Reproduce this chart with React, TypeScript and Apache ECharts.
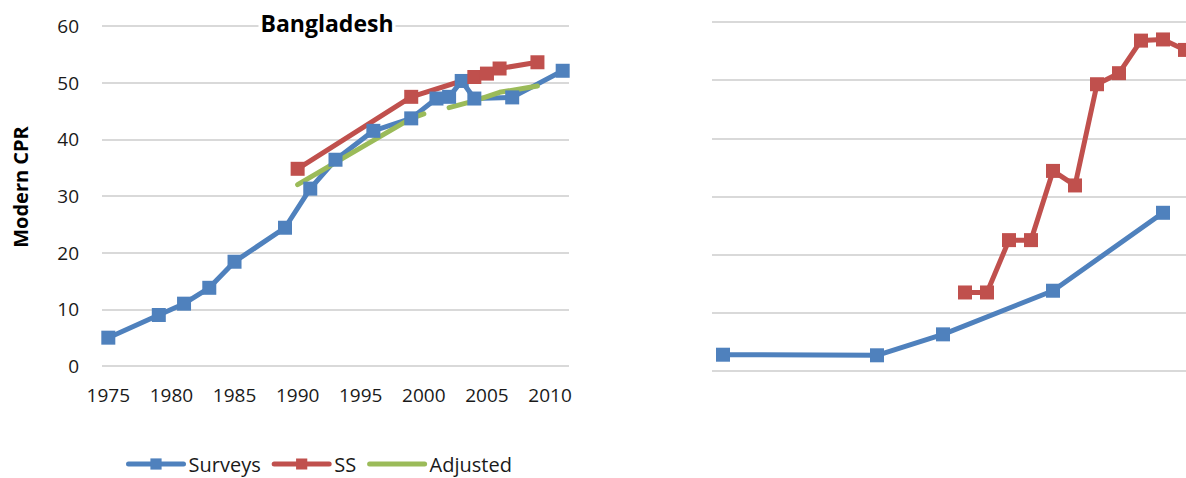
import React, { useEffect, useRef } from "react";
import * as echarts from "echarts";

// ---- Data (left panel: Bangladesh) ----
const xTickYears = [1975, 1980, 1985, 1990, 1995, 2000, 2005, 2010];
const surveyYears = [1975, 1979, 1981, 1983, 1985, 1989, 1991, 1993, 1996, 1999, 2001, 2002, 2003, 2004, 2007, 2011];
const surveyValues = [5.0, 9.0, 11.0, 13.8, 18.4, 24.4, 31.3, 36.4, 41.5, 43.7, 47.2, 47.5, 50.3, 47.2, 47.4, 52.1];
const ssYears = [1990, 1999, 2004, 2005, 2006, 2009];
const ssValues = [34.8, 47.5, 51.0, 51.6, 52.5, 53.6];
const adjustedYears = [1990, 1999, 2000, 2001, 2002, 2004, 2006, 2009];
const adjustedValues: (number | null)[] = [32.0, 43.7, 44.5, null, 45.6, 46.8, 48.3, 49.4];

// ---- Data (right panel, clipped) ----
const rightSurveyYears = [1990, 1997, 2000, 2005, 2010];
const rightSurveyValues = [2.8, 2.7, 6.3, 13.8, 27.2];
const rightSSYears = [2001, 2002, 2003, 2004, 2005, 2006, 2007, 2008, 2009, 2010, 2011];
const rightSSValues = [13.5, 13.5, 22.5, 22.5, 34.4, 31.9, 49.3, 51.2, 56.8, 57.0, 55.2];

const BLUE = "#4F81BD";
const RED = "#C0504D";
const GREEN = "#9BBB59";
const FONT = "'Open Sans', 'Noto Sans', sans-serif";

const pairs = (xs: number[], ys: (number | null)[]) =>
  xs.map((x, i) => [x, ys[i] === null ? "-" : ys[i]]);

export default function App() {
  const ref = useRef<HTMLDivElement>(null);
  useEffect(() => {
    if (!ref.current) return;
    const chart = echarts.init(ref.current, null, { renderer: "svg" });
    const gridLine = { show: true, lineStyle: { color: "#D9D9D9", width: 2 } };
    const lineSeries = (name: string, color: string, data: any[], xi: number, sym = true) => ({
      type: "line",
      name,
      xAxisIndex: xi,
      yAxisIndex: xi,
      data,
      symbol: sym ? "rect" : "none",
      symbolSize: 14,
      showSymbol: sym,
      connectNulls: false,
      clip: false,
      itemStyle: { color },
      lineStyle: { color, width: 5, cap: "round", join: "round" },
      emphasis: { disabled: true },
    });
    chart.setOption({
      animation: false,
      backgroundColor: "#fff",
      textStyle: { fontFamily: FONT },
      grid: [
        { left: 102, width: 467, top: 26, height: 340, outerBoundsMode: "none", containLabel: false },
        { left: 712, width: 506, top: 22, height: 349, outerBoundsMode: "none", containLabel: false },
      ],
      xAxis: [
        {
          type: "value",
          gridIndex: 0,
          min: 1974.5,
          max: 2011.5,
          axisLine: { show: false },
          axisTick: { show: false },
          splitLine: { show: false },
          axisLabel: {
            customValues: xTickYears,
            formatter: (v: number) => String(v),
            fontSize: 19,
            color: "#1a1a1a",
            margin: 19,
            fontFamily: FONT,
          },
        },
        {
          type: "value",
          gridIndex: 1,
          min: 1989.5,
          max: 2012.5,
          axisLine: { show: false },
          axisTick: { show: false },
          splitLine: { show: false },
          axisLabel: { show: false },
        },
      ],
      yAxis: [
        {
          type: "value",
          gridIndex: 0,
          min: 0,
          max: 60,
          interval: 10,
          axisLine: { show: false },
          axisTick: { show: false },
          splitLine: gridLine,
          axisLabel: { fontSize: 19, color: "#1a1a1a", margin: 23, fontFamily: FONT },
        },
        {
          type: "value",
          gridIndex: 1,
          min: 0,
          max: 60,
          interval: 10,
          axisLine: { show: false },
          axisTick: { show: false },
          splitLine: gridLine,
          axisLabel: { show: false },
        },
      ],
      legend: {
        left: 126,
        top: 454,
        padding: 0,
        itemWidth: 55,
        itemHeight: 14,
        itemGap: 11,
        lineStyle: { width: 5 },
        data: [
          { name: "Surveys" },
          { name: "SS" },
          { name: "Adjusted", itemStyle: { opacity: 0 } },
        ],
        textStyle: { fontSize: 20, lineHeight: 20, color: "#1a1a1a", fontFamily: FONT },
        selectedMode: false,
      },
      graphic: [
        {
          type: "text",
          x: 327,
          y: 23,
          z: 10,
          style: {
            text: "Bangladesh",
            font: `bold 23px ${FONT}`,
            fill: "#000",
            align: "center",
            verticalAlign: "middle",
            backgroundColor: "#fff",
            padding: [0, 2],
          },
        },
        {
          type: "text",
          x: 20,
          y: 187,
          rotation: Math.PI / 2,
          z: 10,
          style: {
            text: "Modern CPR",
            font: `bold 20px ${FONT}`,
            fill: "#000",
            align: "center",
            verticalAlign: "middle",
          },
        },
      ],
      series: [
        lineSeries("Surveys", BLUE, pairs(surveyYears, surveyValues), 0),
        lineSeries("SS", RED, pairs(ssYears, ssValues), 0),
        lineSeries("Adjusted", GREEN, pairs(adjustedYears, adjustedValues), 0, false),
        lineSeries("Surveys", BLUE, pairs(rightSurveyYears, rightSurveyValues), 1),
        lineSeries("SS", RED, pairs(rightSSYears, rightSSValues), 1),
      ],
    });
    return () => chart.dispose();
  }, []);
  return (
    <div
      ref={ref}
      style={{ position: "fixed", left: 0, top: 0, width: 1186, height: 478, background: "#fff" }}
    />
  );
}
